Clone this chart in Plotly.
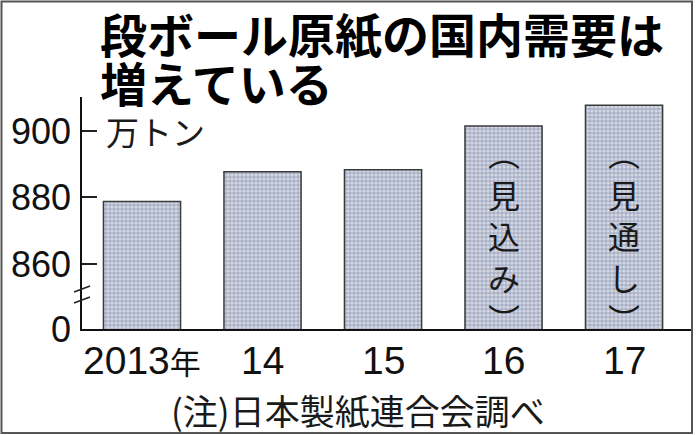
import plotly.graph_objects as go

# ---- data ----
years = ["2013年", "14", "15", "16", "17"]
demand = [878.8, 887.7, 888.3, 901.5, 907.7]   # 万トン
bar_notes = ["", "", "", "見込み", "見通し"]
y_tick_vals = [840.45, 860, 880, 900]
y_tick_text = ["0", "860", "880", "900"]

title_lines = ["段ボール原紙の国内需要は", "増えている"]
unit_label = "万トン"
source_note = "(注)日本製紙連合会調べ"

# ---- layout geometry (px) ----
W, H = 696, 435
L, R, T, B = 82, 4, 97, 106
PW, PH = W - L - R, H - T - B

def px(xp):
    return (xp - L) / PW

def py(yp):
    return (H - B - yp) / PH

JP = "Noto Sans CJK JP"
NUM = "Liberation Sans, Arial"

def year_label(t):
    if t.endswith("年"):
        return t[:-1] + "<span style='font-family:Noto Sans CJK JP;font-size:31px'>年</span>"
    return t

fig = go.Figure()
fig.add_trace(go.Bar(
    x=years, y=demand, width=0.64,
    marker=dict(
        color="#aeb5c9",
        line=dict(color="#3a3a3a", width=1.5),
        pattern=dict(shape=".", bgcolor="#a9b1c7", fgcolor="#ffffff", size=4, solidity=0.5),
    ),
    hoverinfo="skip",
))

annotations = [
    dict(text="<b>" + title_lines[0] + "</b>", x=px(98), y=py(33), xref="paper", yref="paper",
         xanchor="left", yanchor="middle", showarrow=False,
         font=dict(family=JP, size=47, color="#000")),
    dict(text="<b>" + title_lines[1] + "</b>", x=px(98), y=py(82), xref="paper", yref="paper",
         xanchor="left", yanchor="middle", showarrow=False,
         font=dict(family=JP, size=47, color="#000")),
    dict(text=unit_label, x=px(104), y=py(131), xref="paper", yref="paper",
         xanchor="left", yanchor="middle", showarrow=False,
         font=dict(family=JP, size=33, color="#1a1a1a")),
    dict(text=source_note, x=px(169), y=py(409), xref="paper", yref="paper",
         xanchor="left", yanchor="middle", showarrow=False,
         font=dict(family=JP, size=35, color="#1a1a1a")),
]
# category labels under the bars
for i, t in enumerate(years):
    annotations.append(dict(text=year_label(t), x=i, y=py(360), xref="x", yref="paper",
                            xanchor="center", yanchor="middle", showarrow=False,
                            font=dict(family=NUM, size=39, color="#111")))
# vertical notes inside bars
for i, note in enumerate(bar_notes):
    if note:
        txt = "<br>".join(["︵"] + list(note) + ["︶"])
        annotations.append(dict(text=txt, x=i, y=py(235), xref="x", yref="paper",
                                xanchor="center", yanchor="middle", showarrow=False,
                                font=dict(family=JP, size=32, color="#1a1a1a")))

shapes = [
    # outer frame
    dict(type="rect", xref="paper", yref="paper",
         x0=px(1.5), x1=px(692), y0=py(433), y1=py(1.5),
         line=dict(color="#555", width=2), fillcolor="rgba(0,0,0,0)", layer="above"),
    # axis break marks
    dict(type="line", xref="paper", yref="paper", x0=px(74), y0=py(292), x1=px(90), y1=py(286),
         line=dict(color="#222", width=1.5)),
    dict(type="line", xref="paper", yref="paper", x0=px(74), y0=py(303), x1=px(90), y1=py(297),
         line=dict(color="#222", width=1.5)),
]

fig.update_layout(
    width=W, height=H,
    margin=dict(l=L, r=R, t=T, b=B, pad=0),
    paper_bgcolor="white", plot_bgcolor="white",
    showlegend=False,
    annotations=annotations,
    shapes=shapes,
    bargap=0.36,
)
fig.update_xaxes(
    type="category", range=[-0.498, 4.564],
    showticklabels=False,
    showline=True, linecolor="#111", linewidth=1.5,
    ticks="", showgrid=False, zeroline=False,
)
fig.update_yaxes(
    range=[840.45, 910.2],
    tickvals=y_tick_vals, ticktext=y_tick_text,
    showline=True, linecolor="#111", linewidth=1.5,
    ticks="inside", ticklen=15, tickcolor="#222", tickwidth=1.5,
    showgrid=False, zeroline=False,
    tickfont=dict(family="Liberation Sans, Arial", size=36, color="#111"),
    ticklabelstandoff=2,
)

fig.write_html(
    "out.html",
    config={"displayModeBar": False},
    post_script="document.body.style.margin='0';document.body.style.overflow='hidden';",
)
